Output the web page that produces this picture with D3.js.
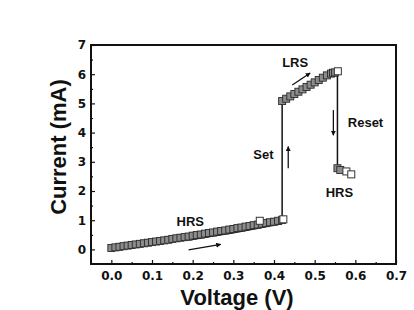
<!DOCTYPE html>
<html>
<head>
<meta charset="utf-8">
<script src="https://cdn.jsdelivr.net/npm/d3@7"></script>
<style>
  body { margin: 0; background: #fff; }
  svg { display: block; }
</style>
</head>
<body>
<div id="chart"></div>
<script>
// HRS sweep (0 -> 0.42 V)
const hrsV = [0.00,0.01,0.02,0.03,0.04,0.05,0.06,0.07,0.08,0.09,0.10,0.11,0.12,0.13,0.14,0.15,0.16,0.17,0.18,0.19,0.20,
              0.21,0.22,0.23,0.24,0.25,0.26,0.27,0.28,0.29,0.30,0.31,0.32,0.33,0.34,0.35,0.36,0.37,0.38,0.39,0.40,0.41,0.42];
const hrsI = [0.05,0.07,0.09,0.11,0.13,0.15,0.17,0.19,0.21,0.23,0.25,0.27,0.29,0.31,0.33,0.36,0.38,0.40,0.42,0.44,0.47,
              0.49,0.51,0.54,0.56,0.58,0.61,0.63,0.65,0.68,0.70,0.73,0.75,0.78,0.80,0.83,0.85,0.88,0.90,0.93,0.95,0.98,1.01];
// dark trace under the HRS band
const traceV = [0.19, 0.25, 0.30, 0.35, 0.40, 0.42];
const traceI = [0.33, 0.47, 0.58, 0.71, 0.84, 0.89];
// LRS sweep after set
const lrsV = [0.42,0.43,0.44,0.45,0.46,0.47,0.48,0.49,0.50,0.51,0.52,0.53,0.54,0.545,0.55];
const lrsI = [5.08,5.16,5.24,5.32,5.40,5.48,5.56,5.64,5.72,5.80,5.88,5.96,6.02,6.05,6.06];
// HRS after reset
const resetV = [0.556, 0.563];
const resetI = [2.78, 2.72];
// open squares
const openV = [0.365, 0.423, 0.557, 0.578, 0.590];
const openI = [0.98, 1.03, 6.10, 2.67, 2.57];
// switching lines
const setLineV = [0.42, 0.42];
const setLineI = [1.00, 5.08];
const resetLineV = [0.556, 0.556];
const resetLineI = [6.10, 2.80];

const xTicks = [0, 0.1, 0.2, 0.3, 0.4, 0.5, 0.6, 0.7];
const xMinor = [-0.05, 0.05, 0.15, 0.25, 0.35, 0.45, 0.55, 0.65];
const yTicks = [0, 1, 2, 3, 4, 5, 6, 7];
const yMinor = [-0.5, 0.5, 1.5, 2.5, 3.5, 4.5, 5.5, 6.5];

// annotations
const labelText = ["HRS", "Set", "LRS", "Reset", "HRS"];
const labelV = [0.194, 0.374, 0.452, 0.625, 0.561];
const labelI = [0.97, 3.26, 6.41, 4.36, 1.96];
const arrowV0 = [0.190, 0.435, 0.445, 0.546];
const arrowI0 = [-0.02, 2.78, 5.63, 4.77];
const arrowV1 = [0.269, 0.435, 0.489, 0.546];
const arrowI1 = [0.17, 3.52, 6.04, 3.91];

const width = 414, height = 310;
const margin = {left: 91, right: 18, top: 45, bottom: 46};

const svg = d3.select("#chart").append("svg")
  .attr("width", width)
  .attr("height", height);

const x = d3.scaleLinear().domain([-0.05, 0.7]).range([margin.left, width - margin.right]);
const y = d3.scaleLinear().domain([-0.5, 7]).range([height - margin.bottom, margin.top]);

svg.append("defs").append("marker")
  .attr("id", "head")
  .attr("viewBox", "0 0 10 10")
  .attr("refX", 9).attr("refY", 5)
  .attr("markerWidth", 5).attr("markerHeight", 5)
  .attr("markerUnits", "userSpaceOnUse")
  .attr("orient", "auto")
  .append("path")
    .attr("d", "M0,0L10,5L0,10z")
    .attr("fill", "#111");

// axes (inward ticks)
const fontTick = "'DejaVu Sans', sans-serif";
const xAxis = svg.append("g")
  .attr("transform", `translate(0,${y(-0.5)})`)
  .call(d3.axisBottom(x).tickValues(xTicks).tickFormat(d3.format(".1f"))
    .tickSizeInner(-4).tickSizeOuter(0).tickPadding(7));
const yAxis = svg.append("g")
  .attr("transform", `translate(${x(-0.05)},0)`)
  .call(d3.axisLeft(y).tickValues(yTicks).tickFormat(d3.format("d"))
    .tickSizeInner(-4).tickSizeOuter(0).tickPadding(5));
svg.append("g")
  .attr("transform", `translate(0,${y(-0.5)})`)
  .call(d3.axisBottom(x).tickValues(xMinor).tickFormat("").tickSizeInner(-2).tickSizeOuter(0));
svg.append("g")
  .attr("transform", `translate(${x(-0.05)},0)`)
  .call(d3.axisLeft(y).tickValues(yMinor).tickFormat("").tickSizeInner(-2).tickSizeOuter(0));

svg.selectAll(".domain").remove();
svg.selectAll(".tick line").attr("stroke", "#111").attr("stroke-width", 1.2);
[xAxis, yAxis].forEach(a => a.selectAll("text")
  .attr("font-family", fontTick)
  .attr("font-weight", "bold")
  .attr("font-size", 12)
  .attr("fill", "#111"));

// frame
svg.append("rect")
  .attr("x", x(-0.05)).attr("y", y(7))
  .attr("width", x(0.7) - x(-0.05))
  .attr("height", y(-0.5) - y(7))
  .attr("fill", "none")
  .attr("stroke", "#111")
  .attr("stroke-width", 2);

// axis titles
svg.append("text")
  .attr("x", 237).attr("y", 305)
  .attr("text-anchor", "middle")
  .attr("font-family", "Arial, 'Liberation Sans', sans-serif")
  .attr("font-weight", "bold")
  .attr("font-size", 22)
  .attr("fill", "#111")
  .text("Voltage (V)");
svg.append("text")
  .attr("transform", "translate(66,147) rotate(-90)")
  .attr("text-anchor", "middle")
  .attr("font-family", "Arial, 'Liberation Sans', sans-serif")
  .attr("font-weight", "bold")
  .attr("font-size", 22)
  .attr("fill", "#111")
  .text("Current (mA)");

const line = d3.line().x(d => x(d[0])).y(d => y(d[1]));
const zip = (a, b) => a.map((v, i) => [v, b[i]]);

// lines
[[setLineV, setLineI, 1.5], [resetLineV, resetLineI, 1.5], [traceV, traceI, 2]].forEach(([vs, is, w]) => {
  svg.append("path")
    .datum(zip(vs, is))
    .attr("d", line)
    .attr("fill", "none")
    .attr("stroke", "#111")
    .attr("stroke-width", w);
});

// filled squares
const sq = 7;
const filled = zip(hrsV, hrsI).concat(zip(lrsV, lrsI), zip(resetV, resetI));
svg.append("g").selectAll("rect")
  .data(filled)
  .join("rect")
    .attr("x", d => x(d[0]) - sq / 2)
    .attr("y", d => y(d[1]) - sq / 2)
    .attr("width", sq).attr("height", sq)
    .attr("fill", "#8c8c8c")
    .attr("stroke", "#2a2a2a")
    .attr("stroke-width", 0.9);

svg.append("g").selectAll("rect")
  .data(zip(openV, openI))
  .join("rect")
    .attr("x", d => x(d[0]) - sq / 2)
    .attr("y", d => y(d[1]) - sq / 2)
    .attr("width", sq).attr("height", sq)
    .attr("fill", "#fff")
    .attr("stroke", "#333")
    .attr("stroke-width", 1);

// arrows
svg.append("g").selectAll("line")
  .data(arrowV0.map((v, i) => i))
  .join("line")
    .attr("x1", i => x(arrowV0[i])).attr("y1", i => y(arrowI0[i]))
    .attr("x2", i => x(arrowV1[i])).attr("y2", i => y(arrowI1[i]))
    .attr("stroke", "#111")
    .attr("stroke-width", 1.3)
    .attr("marker-end", "url(#head)");

// labels
svg.append("g").selectAll("text")
  .data(labelText)
  .join("text")
    .attr("x", (d, i) => x(labelV[i]))
    .attr("y", (d, i) => y(labelI[i]) + 4.7)
    .attr("text-anchor", "middle")
    .attr("font-family", "Arial, 'Liberation Sans', sans-serif")
    .attr("font-weight", "bold")
    .attr("font-size", 13)
    .attr("fill", "#111")
    .text(d => d);
</script>
</body>
</html>
